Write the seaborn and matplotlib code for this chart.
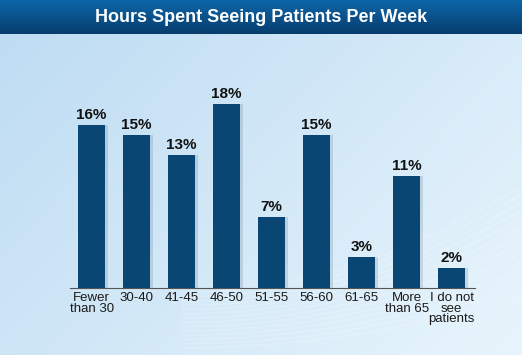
import numpy as np
import pandas as pd
import matplotlib
matplotlib.use("Agg")
import matplotlib.pyplot as plt
import seaborn as sns

categories = ["Fewer\nthan 30", "30-40", "41-45", "46-50", "51-55", "56-60",
              "61-65", "More\nthan 65", "I do not\nsee\npatients"]
values = [16, 15, 13, 18, 7, 15, 3, 11, 2]
title = "Hours Spent Seeing Patients Per Week"

df = pd.DataFrame({"hours": categories, "pct": values})

sns.set_theme(style="white")
plt.rcParams["font.family"] = ["Liberation Sans", "DejaVu Sans"]

fig = plt.figure(figsize=(5.22, 3.55), dpi=100)

# background gradient
bg = fig.add_axes([0, 0, 1, 1], zorder=0)
xx, yy = np.meshgrid(np.linspace(0, 1, 200), np.linspace(0, 1, 200))
t = np.clip(0.6 * xx + 0.4 * (1 - yy), 0, 1)
c0 = np.array([0.74, 0.86, 0.95])
c1 = np.array([0.91, 0.96, 0.99])
img = c0[None, None, :] * (1 - t[..., None]) + c1[None, None, :] * t[..., None]
bg.imshow(img, extent=[0, 1, 0, 1], aspect="auto", origin="lower")
# faint light rays in the lower right
for k in range(14):
    a = np.linspace(0.35, 1.0, 100)
    bg.plot(a, 0.02 + 0.012 * k + 0.35 * (a - 0.35) ** 2 * (1 + 0.08 * k),
            color="white", alpha=0.18, lw=1.2)
# banner
band = np.linspace(0, 1, 50)[:, None, None]
top = np.array([0.05, 0.40, 0.66])
bot = np.array([0.03, 0.24, 0.43])
bimg = np.repeat(bot * (1 - band) + top * band, 2, axis=1)
bg.imshow(bimg, extent=[0, 1, 1 - 34 / 355, 1], aspect="auto", origin="lower")
bg.set_xlim(0, 1)
bg.set_ylim(0, 1)
bg.axis("off")
bg.text(0.5, 1 - 17 / 355, title, color="white", fontsize=13,
        fontweight="bold", ha="center", va="center")

ax = fig.add_axes([70 / 522, 67 / 355, 405 / 522, 204 / 355], zorder=1)
ax.patch.set_alpha(0)
sns.barplot(data=df, x="hours", y="pct", color="#0a4674", width=0.6,
            saturation=1, edgecolor="none", linewidth=0, ax=ax, zorder=3)
for p in ax.patches[:len(values)]:
    x0, w, h = p.get_x(), p.get_width(), p.get_height()
    ax.bar(x0 + w + 0.03, h, width=0.06, bottom=0, color="#3d5f7c",
           alpha=0.18, edgecolor="none", linewidth=0, align="center", zorder=2)
    ax.text(x0 + w / 2, h + 0.3, f"{int(h)}%", ha="center", va="bottom",
            fontsize=11, fontweight="bold", color="#111111")

ax.set_xlim(-0.48, 8.52)
ax.set_ylim(0, 20)
ax.set_xlabel("")
ax.set_ylabel("")
ax.set_yticks([])
for s in ["top", "right", "left"]:
    ax.spines[s].set_visible(False)
ax.spines["bottom"].set_color("#555555")
ax.spines["bottom"].set_linewidth(0.8)
ax.tick_params(axis="x", length=0, pad=3, labelsize=9.5, labelcolor="#1a1a1a")
for lbl in ax.get_xticklabels():
    lbl.set_linespacing(0.85)

fig.savefig("out.png", dpi=100)
